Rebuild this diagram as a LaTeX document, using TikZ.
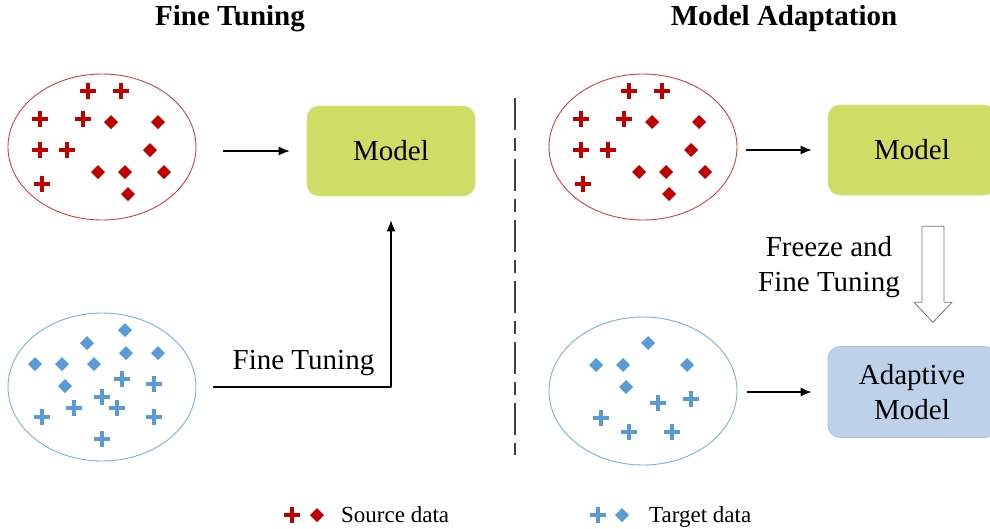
\documentclass[tikz,border=0pt]{standalone}
\usepackage{fontspec}
\setmainfont{Liberation Serif}
\usepackage{xcolor}
\definecolor{srcred}{HTML}{C00000}
\definecolor{tgtblue}{HTML}{5B9BD5}
\definecolor{modelgreen}{HTML}{CEDD65}
\definecolor{adaptblue}{HTML}{BDD1EA}
\usetikzlibrary{arrows.meta,shapes.geometric}
\newcommand{\bigfont}{\fontsize{29}{35}\selectfont}
\newcommand{\legfont}{\fontsize{23}{26}\selectfont}
\tikzset{
  plusmark/.pic={\draw[line width=4.5pt,line cap=butt] (-8,0)--(8,0) (0,-8)--(0,8);},
  diamark/.pic={\fill (0,-7)--(7,0)--(0,7)--(-7,0)--cycle;},
  srcset/.style={ellipse,draw=srcred!75,line width=0.9pt,minimum width=188pt,minimum height=146pt,inner sep=0pt},
  tgtset/.style={ellipse,draw=tgtblue!80,line width=0.9pt,minimum width=188pt,minimum height=148pt,inner sep=0pt},
  modelbox/.style={rounded corners=12pt,draw=modelgreen!80!white,fill=modelgreen,line width=0.6pt,minimum width=168pt,minimum height=90pt,font=\bigfont},
  adaptbox/.style={rounded corners=12pt,draw=tgtblue!60,fill=adaptblue,line width=0.8pt,minimum width=168pt,minimum height=91pt,font=\bigfont,align=center},
  flow/.style={-{Latex[length=11pt,width=9pt]},line width=1.4pt},
  hollow/.style={draw=black!55,fill=white,line width=0.8pt},
  heading/.style={font=\bigfont\bfseries}
}

\begin{document}
\begin{tikzpicture}[x=1pt,y=-1pt,line cap=round,line join=round]
  \clip (0,0) rectangle (990,528);
  \node[heading] (headL) at (230,19) {Fine Tuning};
  \node[heading] (headR) at (784,19) {Model Adaptation};
  \draw[black!75,line width=2pt,line cap=butt,dash pattern=on 32pt off 8pt on 13pt off 8pt] (515,98) -- (515,455);

  \node[srcset] (srcL) at (102,147) {};
  \node[tgtset] (tgtL) at (102,387) {};
  \node[srcset] (srcR) at (643,147) {};
  \node[tgtset] (tgtR) at (643,391) {};

  \foreach \e in {srcL,srcR}{
    \begin{scope}[shift={(\e.center)},color=srcred]
      \foreach \u/\v in {-14/-56,19/-56,-62/-28,-19/-28,-62/3,-35/3,-60/37}{\pic at (\u,\v) {plusmark};}
      \foreach \u/\v in {9/-25,56/-25,48/3,-4/25,23/25,62/25,26/47}{\pic at (\u,\v) {diamark};}
    \end{scope}
  }
  \begin{scope}[shift={(tgtL.center)},color=tgtblue]
    \foreach \u/\v in {20/-8,52/-3,0/10,-28/21,15/21,-60/30,52/30,0/52}{\pic at (\u,\v) {plusmark};}
    \foreach \u/\v in {23/-57,-15/-44,24/-34,56/-34,-67/-23,-40/-23,-8/-23,-37/-1}{\pic at (\u,\v) {diamark};}
  \end{scope}
  \begin{scope}[shift={(tgtR.center)},color=tgtblue]
    \foreach \u/\v in {15/12,48/8,-42/27,-14/41,29/41}{\pic at (\u,\v) {plusmark};}
    \foreach \u/\v in {5/-48,-47/-26,-20/-26,44/-26,-17/-4}{\pic at (\u,\v) {diamark};}
  \end{scope}

  \node[modelbox] (modelL) at (391,151) {Model};
  \node[modelbox] (modelR) at (912,150) {Model};
  \node[adaptbox] (adaptR) at (912,392) {Adaptive\\Model};

  \draw[flow,shorten <=27pt,shorten >=17pt] (srcL.east |- modelL.west) -- (modelL.west);
  \draw[flow,shorten <=17pt,shorten >=24pt] (tgtL.east) -- node[pos=0.55,above=11pt,inner sep=0pt,font=\bigfont] (ftLabel) {Fine Tuning} (tgtL.east -| modelL.south) -- (modelL.south);
  \draw[flow,shorten <=9pt,shorten >=16pt] (srcR.east |- modelR.west) -- (modelR.west);
  \draw[flow,shorten <=10pt,shorten >=16pt] (tgtR.east |- adaptR.west) -- (adaptR.west);

  \coordinate (fzTop) at ([xshift=21pt,yshift=-31pt]modelR.south);
  \draw[hollow] (fzTop) ++(-11,0) -- ++(22,0) -- ++(0,76) -- ++(8,0) -- ++(-19,20) -- ++(-19,-20) -- ++(8,0) -- cycle;
  \node[font=\bigfont,align=center] (fzLabel) at (829,267.5) {Freeze and\\Fine Tuning};

  \pic[color=srcred] at (292,515) {plusmark};
  \pic[color=srcred] at (317,515) {diamark};
  \node[anchor=base west,font=\legfont,inner sep=0pt] (legSrc) at (341,522) {Source data};
  \pic[color=tgtblue] at (598,515) {plusmark};
  \pic[color=tgtblue] at (622,515) {diamark};
  \node[anchor=base west,font=\legfont,inner sep=0pt] (legTgt) at (649,522) {Target data};
\end{tikzpicture}
\end{document}
